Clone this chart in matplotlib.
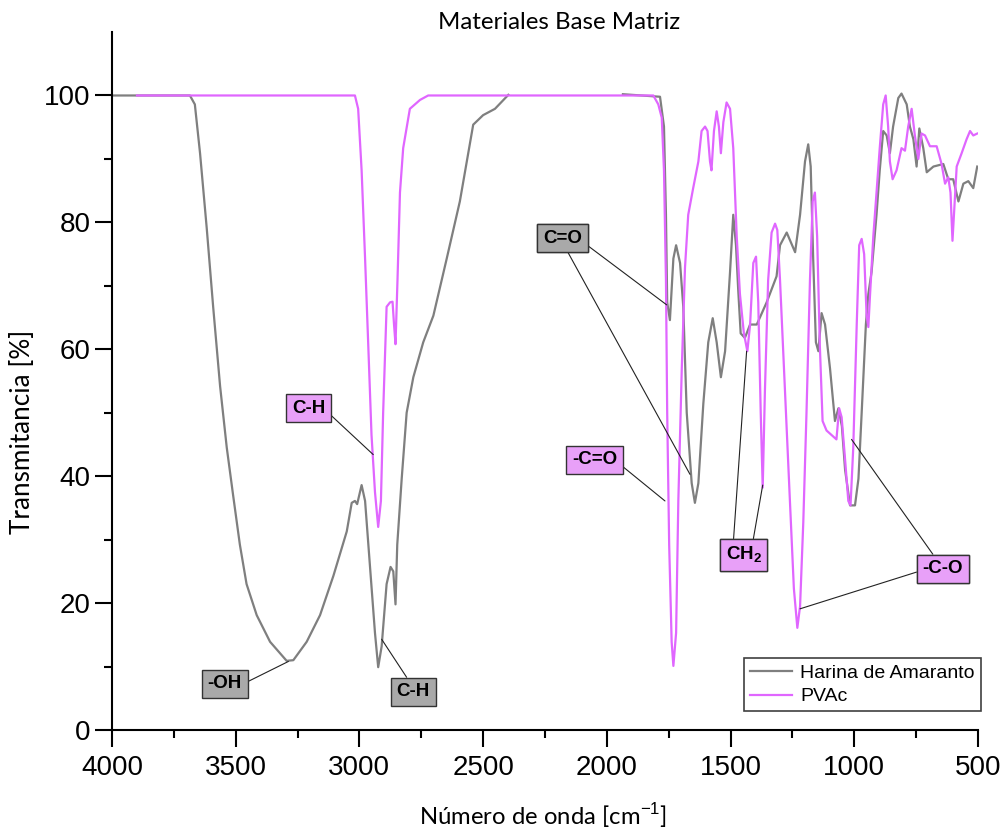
import numpy as np
import matplotlib
matplotlib.use("Agg")
import matplotlib.pyplot as plt

plt.rcParams['font.family'] = ['Liberation Sans', 'DejaVu Sans']
plt.rcParams['mathtext.fontset'] = 'custom'
plt.rcParams['mathtext.rm'] = 'Liberation Sans'
plt.rcParams['mathtext.bf'] = 'Liberation Sans:bold'

# Harina de Amaranto (NaN = tramo sin datos)
harina_wn = [4000, 3685, 3665, 3644, 3617, 3591, 3563, 3536, 3510, 3483, 3456, 3415, 3361, 3294, 3267,
             3213, 3159, 3105, 3051, 3031, 3018, 3009, 2991, 2977, 2957, 2937, 2924, 2910, 2890, 2874,
             2863, 2854, 2847, 2829, 2809, 2782, 2742, 2701, 2647, 2594, 2540, 2500, 2452, 2398, 2200,
             1935, 1785, 1769, 1761, 1756, 1745, 1731, 1720, 1704, 1691, 1677, 1657, 1644, 1630, 1610,
             1590, 1572, 1556, 1539, 1522, 1502, 1489, 1478, 1469, 1459, 1442, 1421, 1394, 1354, 1314,
             1300, 1273, 1239, 1219, 1199, 1186, 1176, 1166, 1155, 1145, 1132, 1118, 1098, 1078, 1064,
             1050, 1037, 1017, 997, 983, 970, 953, 943, 930, 910, 897, 883, 869, 856, 843,
             822, 809, 788, 775, 761, 748, 737, 721, 707, 680, 640, 620, 600, 579, 559,
             539, 519, 503]
harina_t = [100, 100, 98.6, 90.9, 79.1, 66.7, 54.2, 44.5, 36.9, 29.2, 23.0, 18.1, 13.9, 10.9, 11.0,
            13.9, 18.1, 24.3, 31.3, 35.8, 36.1, 35.6, 38.6, 36.1, 25.7, 15.3, 9.9, 13.2, 23.0, 25.7,
            25.0, 19.8, 29.2, 39.6, 50.0, 55.6, 61.1, 65.3, 74.3, 83.3, 95.4, 96.9, 97.9, 100.1, np.nan,
            100.2, 99.8, 95.1, 81.2, 67.4, 64.6, 74.3, 76.4, 73.6, 66.7, 50.0, 38.9, 35.8, 38.9, 51.4,
            61.1, 64.9, 61.1, 55.6, 59.7, 72.2, 81.2, 76.4, 69.4, 62.5, 61.8, 63.9, 63.9, 67.4, 71.5,
            76.4, 78.4, 75.3, 81.2, 89.6, 92.3, 88.8, 74.3, 61.1, 59.7, 65.7, 63.9, 57.0, 48.7, 50.7,
            47.9, 41.0, 35.4, 35.4, 39.6, 50.0, 63.9, 68.7, 72.2, 81.2, 88.2, 94.4, 93.7, 90.9, 95.1,
            99.6, 100.3, 98.6, 95.1, 93.1, 88.8, 94.8, 91.7, 87.9, 88.8, 89.2, 86.8, 86.8, 83.3, 86.1,
            86.5, 85.4, 88.8]

# PVAc
pvac_wn = [3899, 3018, 3005, 2991, 2977, 2964, 2951, 2937, 2924, 2913, 2904, 2890, 2876, 2866, 2860,
           2854, 2846, 2836, 2823, 2796, 2755, 2722, 1812, 1792, 1778, 1769, 1761, 1756, 1748, 1738,
           1731, 1720, 1711, 1697, 1684, 1671, 1651, 1630, 1617, 1603, 1593, 1583, 1577, 1567, 1556,
           1547, 1539, 1529, 1516, 1502, 1489, 1475, 1462, 1446, 1432, 1421, 1408, 1397, 1388, 1378,
           1370, 1361, 1348, 1334, 1320, 1311, 1300, 1280, 1260, 1244, 1230, 1219, 1206, 1193, 1179,
           1168, 1159, 1150, 1139, 1128, 1112, 1092, 1072, 1061, 1051, 1038, 1024, 1015, 1004, 990,
           980, 970, 960, 950, 943, 937, 923, 910, 897, 883, 873, 863, 856, 845, 829,
           809, 795, 782, 768, 755, 741, 728, 714, 694, 667, 647, 633, 620, 611, 603,
           596, 586, 566, 546, 532, 519, 503]
pvac_t = [100, 100, 97.9, 88.2, 74.3, 60.5, 46.5, 37.5, 32.0, 36.1, 50.0, 66.7, 67.4, 67.5, 63.9,
          60.8, 70.9, 84.7, 91.7, 97.9, 99.3, 100, 100, 98.6, 96.5, 88.2, 70.9, 50.0, 29.2, 13.9,
          10.1, 15.3, 36.1, 57.0, 72.9, 81.2, 85.4, 89.6, 94.4, 95.1, 94.4, 89.6, 88.2, 94.4, 97.5,
          95.1, 90.9, 95.8, 98.9, 97.9, 91.7, 77.8, 68.7, 62.5, 59.7, 63.9, 73.6, 74.6, 67.4, 50.0,
          38.2, 53.5, 70.9, 78.4, 79.8, 78.8, 70.9, 53.5, 36.1, 22.3, 16.1, 19.5, 32.7, 50.0, 70.9,
          83.3, 84.7, 77.8, 60.5, 48.7, 47.2, 46.5, 45.8, 50.7, 49.3, 43.1, 36.1, 35.4, 44.5, 63.9,
          76.4, 77.4, 75.0, 65.3, 63.5, 68.0, 77.8, 84.7, 91.7, 98.6, 100, 95.1, 89.6, 86.8, 88.2,
          91.7, 91.3, 95.1, 97.9, 93.7, 90.0, 94.0, 93.7, 92.0, 92.0, 89.2, 86.1, 87.1, 84.7, 77.1,
          81.9, 88.8, 90.9, 93.1, 94.4, 93.7, 94.0]

gris = '#7f7f7f'
rosa = '#e066ff'
caja_gris = '#a9a9a9'
caja_rosa = '#e8a0f8'

# etiqueta, posicion de la caja, color, [(punto de salida en la caja, punto del espectro)]
etiquetas = [
    ("C-H", (3205, 50.7), caja_rosa, [((1, 0.4), (2944, 43.4))]),
    ("-OH", (3544, 7.3), caja_gris, [((1, 0.45), (3287, 10.8))]),
    ("C-H", (2782, 6.0), caja_gris, [((0.42, 1), (2910, 14.3))]),
    ("C=O", (2179, 77.5), caja_gris, [((1, 0.32), (1758, 67.0)), ((0.56, 0), (1664, 40.3))]),
    ("-C=O", (2050, 42.6), caja_rosa, [((1, 0.37), (1765, 36.1))]),
    (r"CH$_\mathbf{2}$", (1447, 27.6), caja_rosa, [((0.21, 1), (1435, 59.7)), ((0.74, 1), (1370, 38.6))]),
    ("-C-O", (642, 25.4), caja_rosa, [((0.36, 1), (1011, 45.8)), ((0, 0.42), (1219, 19.1))]),
]

fig = plt.figure(figsize=(10.05, 8.32), dpi=100)
ax = fig.add_axes([0.1114, 0.1226, 0.8617, 0.8389])

ax.plot(harina_wn, harina_t, color=gris, lw=1.6, label='Harina de Amaranto')
ax.plot(pvac_wn, pvac_t, color=rosa, lw=1.6, label='PVAc')

for texto, pos, color, lineas in etiquetas:
    for relpos, punto in lineas:
        ax.annotate(texto, xy=punto, xytext=pos, ha='center', va='center',
                    fontsize=13.5, fontweight='bold',
                    bbox=dict(boxstyle='square,pad=0.3', fc=color, ec='#333333', lw=1),
                    arrowprops=dict(arrowstyle='-', color='#222222', lw=0.8,
                                    shrinkA=0, shrinkB=0, relpos=relpos))

ax.set_xlim(4000, 500)
ax.set_ylim(0, 110)
ax.set_xticks([4000, 3500, 3000, 2500, 2000, 1500, 1000, 500])
ax.set_xticks(np.arange(3750, 500, -500), minor=True)
ax.set_yticks([0, 20, 40, 60, 80, 100])
ax.set_yticks([10, 30, 50, 70, 90], minor=True)
ax.tick_params(axis='both', which='major', labelsize=20, length=12, width=1.5, direction='out')
ax.tick_params(axis='both', which='minor', length=6, width=1.5, direction='out')
ax.tick_params(axis='x', pad=6)

for lado in ['top', 'right']:
    ax.spines[lado].set_visible(False)
for lado in ['left', 'bottom']:
    ax.spines[lado].set_linewidth(1.5)

ax.text(0.516, 1.0143, 'Materiales Base Matriz', transform=ax.transAxes,
        ha='center', va='center', fontsize=17.3, family='Lato')
ax.set_xlabel(r'Número de onda [cm$^{-1}$]', fontsize=17.2, family='Lato', va='center')
ax.xaxis.set_label_coords(0.498, -0.122)
ax.set_ylabel('Transmitancia [%]', fontsize=18.8, family='Lato', va='center')
ax.yaxis.set_label_coords(-0.103, 0.427)

leg = ax.legend(loc='lower right', bbox_to_anchor=(1.003, 0.027), borderaxespad=0,
                fontsize=14, fancybox=False, framealpha=1, edgecolor='#404040',
                handlelength=2.2, handletextpad=0.4, borderpad=0.3, labelspacing=0.3)
leg.get_frame().set_linewidth(1.2)

fig.savefig('out.png', dpi=100)
